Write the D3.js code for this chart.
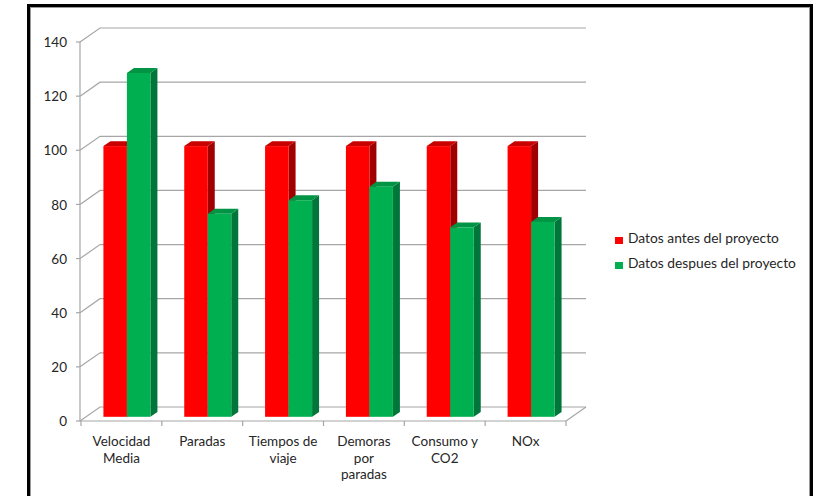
<!DOCTYPE html>
<html>
<head>
<meta charset="utf-8">
<script src="https://cdn.jsdelivr.net/npm/d3@7"></script>
<style>
  html, body { margin: 0; padding: 0; background: #fff; }
  svg { display: block; }
  text { font-family: Lato, "Liberation Sans", Arial, sans-serif; fill: #262626; }
</style>
</head>
<body>
<svg id="chart" width="819" height="496"></svg>
<script>
// ---- data ----
const categories = [["Velocidad", "Media"], ["Paradas"], ["Tiempos de", "viaje"], ["Demoras", "por", "paradas"], ["Consumo y", "CO2"], ["NOx"]];
const seriesNames = ["Datos antes del proyecto", "Datos despues del proyecto"];
const antes = [100, 100, 100, 100, 100, 100];
const despues = [127, 75, 80, 85, 70, 72];
const yTicks = [0, 20, 40, 60, 80, 100, 120, 140];

const colors = {
  front: ["#FF0000", "#00B050"],
  top:   ["#C80000", "#009444"],
  side:  ["#A00000", "#00763A"]
};

const svg = d3.select("#chart");

// frame
svg.append("rect").attr("x", 28.5).attr("y", 5.5).attr("width", 783).attr("height", 492)
  .attr("fill", "none").attr("stroke", "#000").attr("stroke-width", 3);
svg.append("rect").attr("x", 30.5).attr("y", 7.5).attr("width", 779).attr("height", 490)
  .attr("fill", "none").attr("stroke", "#999").attr("stroke-width", 1);

// geometry
const DX = 20, DY = -14;         // depth offset of back wall
const barD0 = 0.3, barD1 = 0.65; // bar depth (front / back) as fraction
const x = d3.scaleBand().domain(d3.range(categories.length)).range([81, 566]).paddingInner(0).paddingOuter(0);
const y = d3.scaleLinear().domain([0, 140]).range([421, 42]);
const pairW = 47;
const xs = d3.scaleBand().domain([0, 1]).range([0, pairW]);

const P = (px, py, d) => [px + DX * d, py + DY * d];
const gridColor = "#A6A6A6";

// back wall gridlines + left diagonals
const grid = svg.append("g");
yTicks.forEach(t => {
  const yy = y(t);
  grid.append("polyline")
    .attr("points", [[80, yy], P(80, yy, 1), P(566, yy, 1)].map(p => p.join(",")).join(" "))
    .attr("fill", "none").attr("stroke", gridColor).attr("stroke-width", 1.2);
});
// right floor diagonal
grid.append("line").attr("x1", 566).attr("y1", y(0)).attr("x2", 566 + DX).attr("y2", y(0) + DY)
  .attr("stroke", gridColor).attr("stroke-width", 1.2);

// y axis
const yAxis = svg.append("g");
yAxis.append("line").attr("x1", 80).attr("x2", 80).attr("y1", y(0)).attr("y2", y(140))
  .attr("stroke", gridColor).attr("stroke-width", 1.2);
yTicks.forEach(t => {
  yAxis.append("line").attr("x1", 76).attr("x2", 80).attr("y1", y(t)).attr("y2", y(t))
    .attr("stroke", gridColor).attr("stroke-width", 1.2);
  yAxis.append("text").attr("x", 67).attr("y", y(t)).attr("dy", "0.38em")
    .attr("text-anchor", "end").attr("font-size", 13.5).text(t);
});

// x axis
const xAxis = svg.append("g");
xAxis.append("line").attr("x1", 80).attr("x2", 566).attr("y1", y(0)).attr("y2", y(0))
  .attr("stroke", gridColor).attr("stroke-width", 1.2);
d3.range(categories.length + 1).forEach(i => {
  const xx = i < categories.length ? x(i) : x(categories.length - 1) + x.bandwidth();
  xAxis.append("line").attr("x1", xx).attr("x2", xx).attr("y1", y(0)).attr("y2", y(0) + 5)
    .attr("stroke", gridColor).attr("stroke-width", 1.2);
});
categories.forEach((lines, i) => {
  const cx = x(i) + x.bandwidth() / 2;
  const txt = xAxis.append("text").attr("x", cx).attr("y", 446).attr("text-anchor", "middle").attr("font-size", 13.5);
  lines.forEach((l, k) => txt.append("tspan").attr("x", cx).attr("y", 446 + k * 16.5).text(l));
});

// bars
const bars = svg.append("g");
const data = [antes, despues];
categories.forEach((c, i) => {
  const base = x(i) + (x.bandwidth() - pairW) / 2 - 0.5;
  [0, 1].forEach(s => {
    const v = data[s][i];
    const xl = base + xs(s), xr = xl + xs.bandwidth();
    const y0 = y(0), y1 = y(v);
    const poly = pts => pts.map(p => p.join(",")).join(" ");
    // side face
    bars.append("polygon").attr("points", poly([P(xr, y0, barD0), P(xr, y0, barD1), P(xr, y1, barD1), P(xr, y1, barD0)]))
      .attr("fill", colors.side[s]);
    // top face
    bars.append("polygon").attr("points", poly([P(xl, y1, barD0), P(xr, y1, barD0), P(xr, y1, barD1), P(xl, y1, barD1)]))
      .attr("fill", colors.top[s]);
    // front face
    const f0 = P(xl, y1, barD0), f1 = P(xr, y0, barD0);
    bars.append("rect").attr("x", f0[0]).attr("y", f0[1]).attr("width", f1[0] - f0[0]).attr("height", f1[1] - f0[1])
      .attr("fill", colors.front[s]);
  });
});

// legend
const lg = svg.append("g");
seriesNames.forEach((n, s) => {
  const base = 243 + s * 25;
  lg.append("rect").attr("x", 615).attr("y", base - 6).attr("width", 8).attr("height", 7).attr("fill", colors.front[s]);
  lg.append("text").attr("x", 628).attr("y", base).attr("font-size", 13.8).text(n);
});
</script>
</body>
</html>
